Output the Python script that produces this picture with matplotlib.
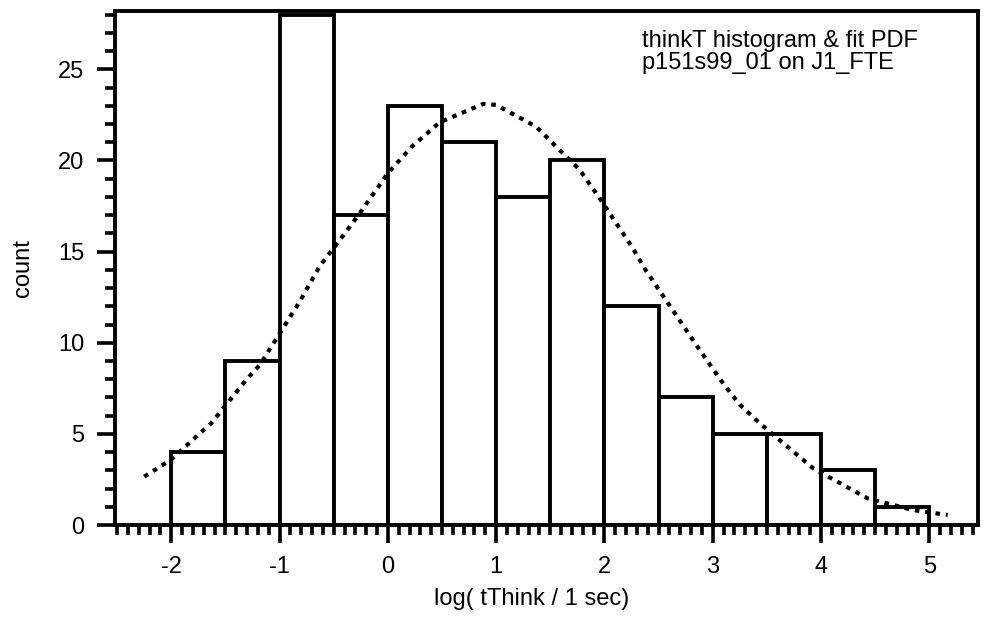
import matplotlib
matplotlib.use("Agg")
import matplotlib.pyplot as plt
from matplotlib.ticker import MultipleLocator

plt.rcParams['font.family'] = ['Liberation Sans', 'DejaVu Sans']

# histogram bins (left edges) and counts
bin_left = [-2.0, -1.5, -1.0, -0.5, 0.0, 0.5, 1.0, 1.5, 2.0, 2.5, 3.0, 3.5, 4.0, 4.5]
counts = [4, 9, 28, 17, 23, 21, 18, 20, 12, 7, 5, 5, 3, 1]
bin_width = 0.5

# fitted PDF curve
fit_x = [-2.25, -2.0, -1.63, -1.52, -1.31, -1.18, -1.0, -0.81, -0.63, -0.46, -0.26,
         0.0, 0.22, 0.48, 0.88, 1.0, 1.37, 1.65, 1.77, 1.97, 2.25, 2.39, 2.88,
         3.08, 3.25, 3.45, 3.93, 4.43, 4.85, 5.17]
fit_y = [2.65, 3.6, 5.6, 6.4, 7.95, 8.8, 10.5, 12.3, 14.2, 15.5, 17.1,
         19.3, 20.75, 22.1, 23.1, 23.05, 21.85, 20.2, 19.5, 17.8, 15.3, 13.9, 9.6,
         7.9, 6.6, 5.5, 3.1, 1.46, 0.82, 0.55]

xticks = [-2, -1, 0, 1, 2, 3, 4, 5]
yticks = [0, 5, 10, 15, 20, 25]

W, H = 983, 618
fig = plt.figure(figsize=(W / 100, H / 100), dpi=100)
L, R, T, B = 115, 978, 11, 525
ax = fig.add_axes([L / W, 1 - B / H, (R - L) / W, (B - T) / H])

ax.bar(bin_left, counts, width=bin_width, align='edge', facecolor='white',
       edgecolor='black', linewidth=2.8, zorder=2)
ax.plot(fit_x, fit_y, color='black', linewidth=3.0, linestyle=(0, (1.1, 1.4)),
        zorder=3)

ax.set_xlim(-2.52, 5.45)
ax.set_ylim(0, 28.2)
ax.set_xticks(xticks)
ax.set_xticklabels([str(v) for v in xticks])
ax.set_yticks(yticks)
ax.xaxis.set_minor_locator(MultipleLocator(0.1))
ax.yaxis.set_minor_locator(MultipleLocator(1))

for s in ax.spines.values():
    s.set_linewidth(2.8)

ax.tick_params(axis='both', which='major', direction='out', length=13, width=2.6,
               labelsize=17, pad=9, top=False, right=False)
ax.tick_params(axis='both', which='minor', direction='out', length=7, width=2.6,
               top=False, right=False)

ax.set_xlabel('log( tThink / 1 sec)', fontsize=17)
ax.xaxis.set_label_coords((532 - L) / (R - L), -(588 - B) / (B - T), transform=ax.transAxes)
ax.set_ylabel('count', fontsize=17)
ax.yaxis.set_label_coords(-(L - 34) / (R - L), (B - 268) / (B - T), transform=ax.transAxes)

fig.text(642 / W, 1 - 47 / H, 'thinkT histogram & fit PDF', fontsize=17,
         ha='left', va='baseline')
fig.text(642 / W, 1 - 69 / H, 'p151s99_01 on J1_FTE', fontsize=17,
         ha='left', va='baseline')

fig.savefig('out.png', dpi=100)
